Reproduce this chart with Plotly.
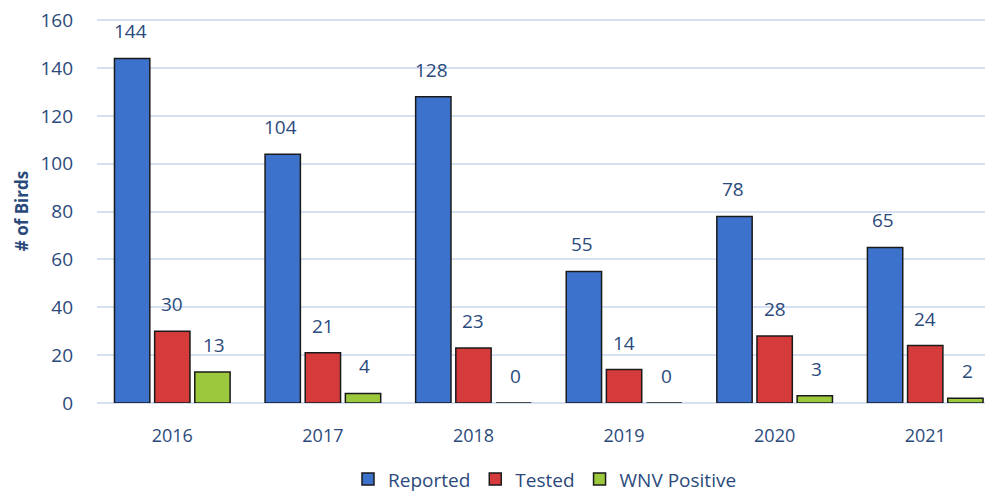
import plotly.graph_objects as go

# Data
years = ['2016', '2017', '2018', '2019', '2020', '2021']
reported = [144, 104, 128, 55, 78, 65]
tested = [30, 21, 23, 14, 28, 24]
wnv_positive = [13, 4, 0, 0, 3, 2]

text_color = '#2B4A7C'
font_family = 'Open Sans, Liberation Sans, sans-serif'

series = [
    ('Reported', reported, '#3C72CC', -42),
    ('Tested', tested, '#D63B3B', 0),
    ('WNV Positive', wnv_positive, '#9CC83E', 42),
]

fig = go.Figure()
for name, vals, color, shift in series:
    fig.add_trace(go.Bar(
        x=years,
        y=vals,
        name=name,
        marker=dict(color=color, line=dict(color='#1A1A1A', width=1.5)),
    ))
    # value labels above bars (category index used for x)
    for i, v in enumerate(vals):
        fig.add_annotation(
            x=i, y=v, text=str(v), showarrow=False,
            xshift=shift, yshift=12, yanchor='bottom',
            font=dict(size=19, color=text_color, family=font_family),
        )

# page body has an 8px margin, so the figure is made 8px smaller
fig.update_layout(
    width=985,
    height=490,
    margin=dict(l=89, r=0, t=11, b=95, autoexpand=False),
    paper_bgcolor='white',
    plot_bgcolor='white',
    barmode='group',
    bargap=0.2,
    bargroupgap=0.12,
    font=dict(family=font_family, color=text_color, size=18),
    legend=dict(
        orientation='h', x=0.5, xanchor='center', xref='paper',
        y=-0.248, yanchor='bottom',
        font=dict(size=19, color=text_color),
        itemwidth=30,
        borderwidth=0,
    ),
    xaxis=dict(
        type='category',
        range=[-0.5, 5.45],
        showgrid=False,
        tickfont=dict(size=18, color=text_color),
        ticks='',
        showline=False,
        ticklabelstandoff=20,
        automargin=False,
    ),
    yaxis=dict(
        range=[0, 160.5],
        tickvals=[0, 20, 40, 60, 80, 100, 120, 140, 160],
        ticklabeloverflow='allow',
        gridcolor='#D5E0F2',
        gridwidth=1.5,
        zeroline=True,
        zerolinecolor='#D5E0F2',
        zerolinewidth=1.5,
        tickfont=dict(size=19, color=text_color),
        ticklabelstandoff=23,
        automargin=False,
        title=dict(text='<b># of Birds</b>', font=dict(size=17, color=text_color), standoff=7),
    ),
)

fig.write_html('out.html')
